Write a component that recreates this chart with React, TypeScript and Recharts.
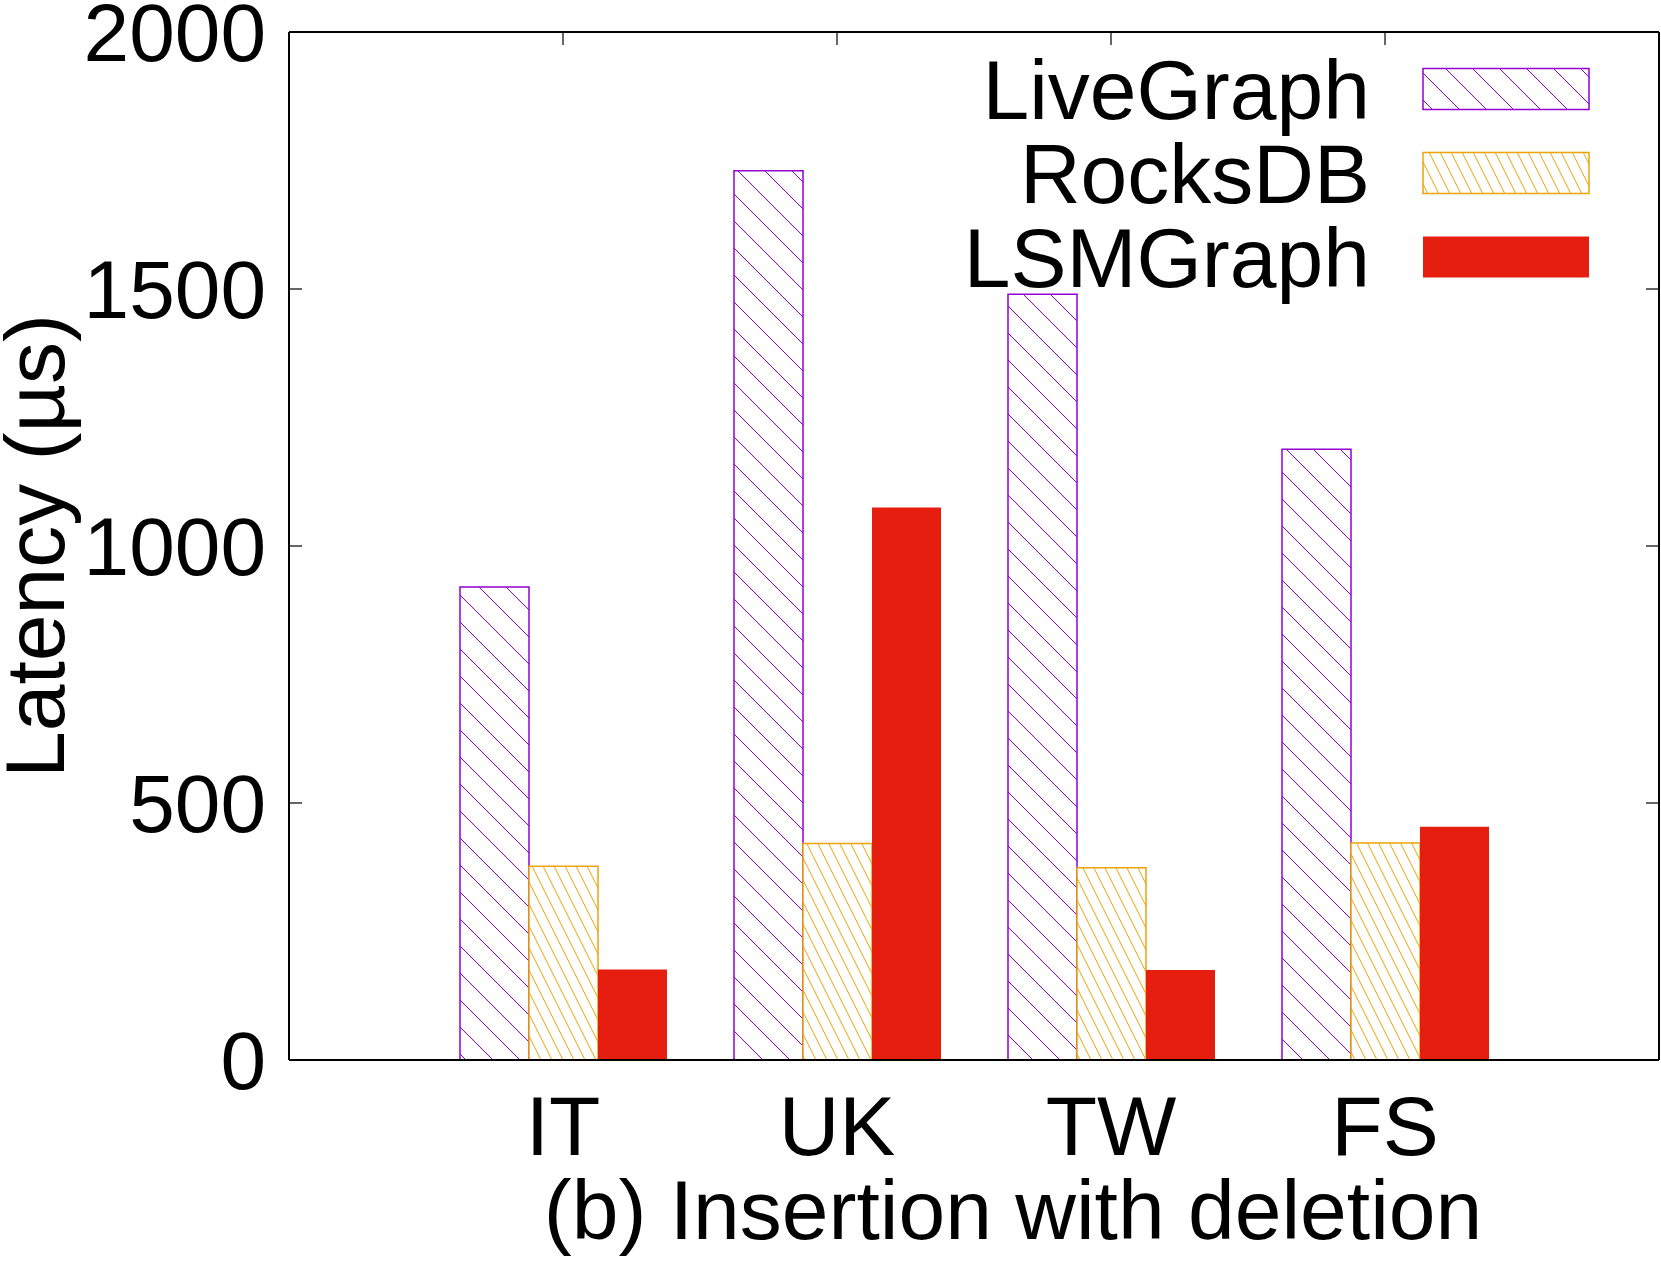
import React from 'react';
import { BarChart, Bar, XAxis, YAxis, Legend } from 'recharts';

const categories = ['IT', 'UK', 'TW', 'FS'];
const liveGraph = [920, 1730, 1490, 1188];
const rocksDB = [377, 421, 374, 422];
const lsmGraph = [176, 1075, 175, 454];
const yTicks = [0, 500, 1000, 1500, 2000];
const seriesNames = ['LiveGraph', 'RocksDB', 'LSMGraph'];

const data = categories.map((name, i) => ({
  name,
  LiveGraph: liveGraph[i],
  RocksDB: rocksDB[i],
  LSMGraph: lsmGraph[i],
}));

const W = 1661;
const H = 1262;
const PLOT_LEFT = 289;
const PLOT_RIGHT = 1659;
const PLOT_TOP = 32;
const PLOT_BOTTOM = 1060;
const FONT = '"Liberation Sans", Arial, Helvetica, sans-serif';
const FS = 84;
const FS_TICK = 82;
const PURPLE = '#9400d3';
const ORANGE = '#eca30c';
const RED = '#e51e10';

const styles: Record<string, { fill: string; stroke: string; sw: number }> = {
  LiveGraph: { fill: 'url(#patPurple)', stroke: PURPLE, sw: 1.5 },
  RocksDB: { fill: 'url(#patOrange)', stroke: ORANGE, sw: 1.5 },
  LSMGraph: { fill: RED, stroke: RED, sw: 0 },
};

const Patterns = ({ suffix }: { suffix: string }) => (
  <defs>
    <pattern id={'patPurple' + suffix} patternUnits="userSpaceOnUse" width={27} height={27}>
      <rect x={0} y={0} width={27} height={27} fill="#fff" />
      <line x1={0} y1={0} x2={27} y2={27} stroke={PURPLE} strokeWidth={1} />
      <line x1={-2} y1={25} x2={2} y2={29} stroke={PURPLE} strokeWidth={1} />
      <line x1={25} y1={-2} x2={29} y2={2} stroke={PURPLE} strokeWidth={1} />
    </pattern>
    <pattern id={'patOrange' + suffix} patternUnits="userSpaceOnUse" width={11} height={22}>
      <rect x={0} y={0} width={11} height={22} fill="#fff" />
      <line x1={0} y1={0} x2={11} y2={22} stroke={ORANGE} strokeWidth={1} />
      <line x1={-1} y1={20} x2={1} y2={24} stroke={ORANGE} strokeWidth={1} />
      <line x1={10} y1={-2} x2={12} y2={2} stroke={ORANGE} strokeWidth={1} />
    </pattern>
  </defs>
);

const YTick = (props: any) => {
  const { y, payload } = props;
  return (
    <g>
      <line x1={PLOT_LEFT} x2={PLOT_LEFT + 13} y1={y} y2={y} stroke="#000" strokeWidth={1.2} />
      <line x1={PLOT_RIGHT - 13} x2={PLOT_RIGHT} y1={y} y2={y} stroke="#000" strokeWidth={1.2} />
      <text x={266} y={y + 29} textAnchor="end" fontSize={FS_TICK} fontFamily={FONT} fill="#000">
        {payload.value}
      </text>
    </g>
  );
};

const XTick = (props: any) => {
  const { x, payload } = props;
  return (
    <g>
      <line x1={x} x2={x} y1={PLOT_TOP} y2={PLOT_TOP + 13} stroke="#000" strokeWidth={1.2} />
      <text x={x} y={1155} textAnchor="middle" fontSize={FS} fontFamily={FONT} fill="#000">
        {payload.value}
      </text>
    </g>
  );
};

const LegendContent = (props: any) => {
  const payload = (props.payload || []) as any[];
  const rows = seriesNames.map((n) => payload.find((p) => p.value === n) || { value: n });
  return (
    <svg width={W} height={320} style={{ position: 'absolute', left: 0, top: 0 }}>
      <Patterns suffix="L" />
      {rows.map((p, i) => {
        const cy = 89 + i * 84;
        const st = styles[p.value];
        const fill = st.fill.replace(')', 'L)');
        return (
          <g key={p.value}>
            <text x={1370} y={cy + 30} textAnchor="end" fontSize={FS} fontFamily={FONT} fill="#000">
              {p.value}
            </text>
            <rect
              x={1423}
              y={cy - 20.5}
              width={166}
              height={41}
              fill={fill}
              stroke={st.stroke}
              strokeWidth={st.sw}
            />
          </g>
        );
      })}
    </svg>
  );
};

export default function App() {
  return (
    <div style={{ position: 'absolute', left: 0, top: 0, width: W, height: H, background: '#fff' }}>
      <BarChart
        width={W}
        height={H}
        data={data}
        margin={{ top: PLOT_TOP - 1, left: PLOT_LEFT - 200, right: W - PLOT_RIGHT - 1, bottom: H - PLOT_BOTTOM - 100 }}
        barGap={0}
        barSize={69}
      >
        <Patterns suffix="" />
        <XAxis
          dataKey="name"
          height={100}
          padding={{ left: 137, right: 137 }}
          tickLine={false}
          axisLine={{ stroke: '#000', strokeWidth: 2 }}
          tick={<XTick />}
          interval={0}
          label={{
            content: () => (
              <text x={1013} y={1239} textAnchor="middle" fontSize={FS} fontFamily={FONT} fill="#000">
                (b) Insertion with deletion
              </text>
            ),
          }}
        />
        <XAxis
          xAxisId="top"
          orientation="top"
          dataKey="name"
          height={1}
          padding={{ left: 137, right: 137 }}
          tick={false}
          tickLine={false}
          axisLine={{ stroke: '#000', strokeWidth: 2 }}
        />
        <YAxis
          width={200}
          domain={[0, 2000]}
          ticks={yTicks}
          interval={0}
          tickLine={false}
          axisLine={{ stroke: '#000', strokeWidth: 2 }}
          tick={<YTick />}
          label={{
            content: () => (
              <text
                x={64}
                y={546}
                transform="rotate(-90, 64, 546)"
                textAnchor="middle"
                fontSize={FS}
                fontFamily={FONT}
                fill="#000"
              >
                Latency (µs)
              </text>
            ),
          }}
        />
        <YAxis
          yAxisId="right"
          orientation="right"
          width={1}
          domain={[0, 2000]}
          tick={false}
          tickLine={false}
          axisLine={{ stroke: '#000', strokeWidth: 2 }}
        />
        <Legend
          layout="horizontal"
          verticalAlign="middle"
          align="center"
          content={<LegendContent />}
          wrapperStyle={{ position: 'absolute', left: 0, top: 0, width: W, height: 320, margin: 0 }}
        />
        {seriesNames.map((n) => (
          <Bar
            key={n}
            dataKey={n}
            name={n}
            fill={styles[n].fill}
            stroke={styles[n].stroke}
            strokeWidth={styles[n].sw}
            isAnimationActive={false}
          />
        ))}
      </BarChart>
    </div>
  );
}
